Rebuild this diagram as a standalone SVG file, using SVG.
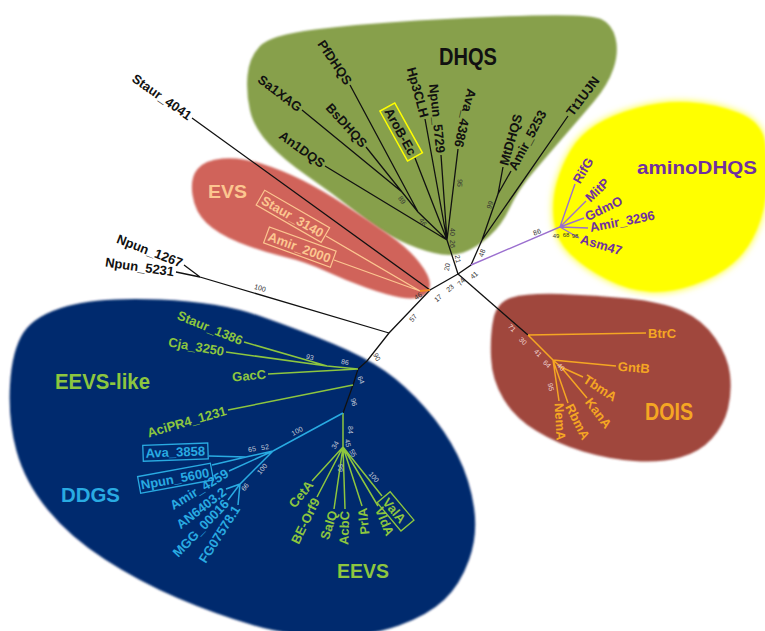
<svg xmlns="http://www.w3.org/2000/svg" width="765" height="631" viewBox="0 0 765 631">
<defs>
<style>
text{font-family:"Liberation Sans",Arial,Helvetica,sans-serif;font-weight:bold;font-size:13px}
.k{fill:#111}
.ev{fill:#fcc690}
.pu{fill:#7030a0}
.or{fill:#f5a623}
.gr{fill:#8dc63f}
.bl{fill:#29abe2}
.bs{font-size:7px;font-weight:normal;fill:#333}
.bsl{font-size:7px;font-weight:normal;fill:#c4cad8}
.bsd{font-size:7px;font-weight:normal;fill:#f0d2cc}
.sm{font-size:6px}
.lk{stroke:#111;stroke-width:1.3;fill:none}
.lp{stroke:#9b6fcf;stroke-width:1.4;fill:none}
.le{stroke:#fcc690;stroke-width:1.3;fill:none}
.lo{stroke:#f5a623;stroke-width:1.5;fill:none}
.lg{stroke:#8dc63f;stroke-width:1.5;fill:none}
.lb{stroke:#29abe2;stroke-width:1.5;fill:none}
</style>
<filter id="soft" x="-5%" y="-5%" width="110%" height="110%"><feGaussianBlur stdDeviation="1"/></filter>
<filter id="glow" x="-10%" y="-10%" width="120%" height="120%"><feGaussianBlur stdDeviation="3"/></filter>
</defs>
<rect width="765" height="631" fill="#fff"/>

<g id="clade-DHQS">
<path filter="url(#soft)" fill="#87a04b" d="M250,110.5 Q246,93 247.5,75.5 Q249,58 259.5,46.5 Q270,35 315,29.5 Q360,24 417,20.5 Q474,17 532,15.5 Q590,14 601,19 Q612,24 615.5,38 Q619,52 613.5,68.5 Q608,85 594,101.5 Q580,118 564,136.5 Q548,155 533,172.5 Q518,190 510,207.5 Q502,225 489,236.5 Q476,248 463.5,252.5 Q451,257 434,253 Q417,249 398.5,240 Q380,231 356,212 Q332,193 308,176.5 Q284,160 269,144 Q254,128 250,110.5 Z"/>
<text class="k" x="439" y="65" style="font-size:23px" textLength="58" lengthAdjust="spacingAndGlyphs">DHQS</text>
</g>
<g id="clade-EVS">
<path filter="url(#soft)" fill="#d0645a" d="M192.5,195 Q190,178 197.5,169 Q205,160 222.5,158.5 Q240,157 261,163.5 Q282,170 302,180 Q322,190 345,205 Q368,220 388,234 Q408,248 419,262 Q430,276 430,284.5 Q430,293 422,296.5 Q414,300 400.5,297.5 Q387,295 367,288 Q347,281 326.5,271.5 Q306,262 283,256.5 Q260,251 239,242.5 Q218,234 206.5,223 Q195,212 192.5,195 Z"/>
<text class="ev" x="208" y="198" style="font-size:18px" textLength="39" lengthAdjust="spacingAndGlyphs">EVS</text>
</g>
<g id="clade-aminoDHQS">
<path filter="url(#glow)" fill="#ffff30" stroke="#ffff60" stroke-width="4" d="M554,220 Q552,200 557,182.5 Q562,165 571,150 Q580,135 596,125 Q612,115 637.5,108 Q663,101 689,102.5 Q715,104 738.5,113 Q762,122 765,143.5 Q768,165 766.5,187.5 Q765,210 756.5,230 Q748,250 733,263 Q718,276 694,284.5 Q670,293 649,291.5 Q628,290 606.5,279 Q585,268 570.5,254 Q556,240 554,220 Z"/>
<path filter="url(#soft)" fill="#ffff00" d="M554,220 Q552,200 557,182.5 Q562,165 571,150 Q580,135 596,125 Q612,115 637.5,108 Q663,101 689,102.5 Q715,104 738.5,113 Q762,122 765,143.5 Q768,165 766.5,187.5 Q765,210 756.5,230 Q748,250 733,263 Q718,276 694,284.5 Q670,293 649,291.5 Q628,290 606.5,279 Q585,268 570.5,254 Q556,240 554,220 Z"/>
<text class="pu" x="637" y="174" style="font-size:19px" textLength="120" lengthAdjust="spacingAndGlyphs">aminoDHQS</text>
</g>
<g id="clade-DOIS">
<path filter="url(#soft)" fill="#a0463e" d="M491,357.5 Q490,335 493.5,318.5 Q497,302 512,297.5 Q527,293 561,294 Q595,295 628.5,298.5 Q662,302 682.5,311 Q703,320 715.5,338.5 Q728,357 730,374.5 Q732,392 728,408.5 Q724,425 712,438.5 Q700,452 680,457.5 Q660,463 634,461 Q608,459 583,451.5 Q558,444 536.5,431 Q515,418 503.5,399 Q492,380 491,357.5 Z"/>
<text class="or" x="645" y="420" style="font-size:23px" textLength="48" lengthAdjust="spacingAndGlyphs">DOIS</text>
</g>
<g id="clade-navy">
<path filter="url(#soft)" fill="#03296e" d="M10,385 Q12,350 23.5,332.5 Q35,315 67.5,306 Q100,297 160,299.5 Q220,302 260,316 Q300,330 332.5,343.5 Q365,357 385,371 Q405,385 425,407.5 Q445,430 457.5,455 Q470,480 474,507.5 Q478,535 469,560 Q460,585 444,600 Q428,615 399,625.5 Q370,636 330,636 Q290,636 252.5,625 Q215,614 177.5,598 Q140,582 105,559.5 Q70,537 47.5,509.5 Q25,482 16.5,451 Q8,420 10,385 Z"/>
<text class="gr" x="55" y="389" style="font-size:22px" textLength="95" lengthAdjust="spacingAndGlyphs">EEVS-like</text>
<text class="bl" x="61" y="502" style="font-size:21px" textLength="59" lengthAdjust="spacingAndGlyphs">DDGS</text>
<text class="gr" x="337" y="578" style="font-size:21px" textLength="52" lengthAdjust="spacingAndGlyphs">EEVS</text>
</g>

<g id="connectors">
<path class="lk" d="M458,274 L447,240 M447,240 L418,212 L402,192 L302,110 M402,192 L366,147 M418,212 L350,85 M447,240 L325,166 M447,240 L415,158 M447,240 L425,119 M447,240 L441,155 M447,240 L458,149"/>
<path class="lk" d="M458,274 L471,265 L482,240 L568,116 M482,240 L498,194 L503,167 M498,194 L511,171"/>
<path class="lk" d="M458,274 L430,290 L389,333 L367,361 L358,369 L353,385 L343,413 M430,290 L192,118 M389,333 L200,277 L184,265 M200,277 L176,272"/>
<path class="lk" d="M458,274 L528,335"/>
<path class="lp" d="M471,265 L560,227 L575,184 M560,227 L586,201 M560,227 L584,218 M560,227 L588,228 M560,227 L579,238"/>
<path class="le" d="M420,291 L326,236 M420,291 L334,260"/>
<path d="M420,291 L430,290" stroke="#f08a20" stroke-width="2"/>
<path class="lo" d="M528,335 L646,333 M528,335 L553,360 L616,366 M553,360 L561,367 L583,377 M561,367 L587,398 M553,360 L568,403 M553,360 L559,401"/>
<path class="lg" d="M244,342 L327,366 L358,369 M226,352 L327,366 M268,374 L358,369 M228,410 L353,385"/>
<path class="lg" d="M343,413 L343,447 L312,481 M343,447 L317,497 M343,447 L334,509 M343,447 L345,509 M343,447 L362,506 M343,447 L378,506 M343,447 L382,496"/>
<path class="lb" d="M343,413 L273,451 L246,457 L209,456 M246,457 L212,465 M273,451 L229,471 M273,451 L240,484 L226,489 M240,484 L228,500 M240,484 L238,505"/>
</g>

<g id="leaf-PfDHQS"><text class="k" transform="translate(350,85) rotate(56)" text-anchor="end" dx="-2" dy="4.5">PfDHQS</text></g>
<g id="leaf-Sa1XAG"><text class="k" transform="translate(302,110) rotate(37)" text-anchor="end" dx="-2" dy="4.5">Sa1XAG</text></g>
<g id="leaf-BsDHQS"><text class="k" transform="translate(366,147) rotate(48)" text-anchor="end" dx="-2" dy="4.5">BsDHQS</text></g>
<g id="leaf-An1DQS"><text class="k" transform="translate(325,166) rotate(36)" text-anchor="end" dx="-2" dy="4.5">An1DQS</text></g>
<g id="leaf-AroB-Ec"><g transform="translate(415,158) rotate(61)"><rect x="-58" y="-9" width="57" height="17" fill="none" stroke="#ffff00" stroke-width="1.5"/><text class="k" text-anchor="end" dx="-4" dy="4.5">AroB-Ec</text></g></g>
<g id="leaf-Hp3CLH"><text class="k" transform="translate(425,119) rotate(75)" text-anchor="end" dx="-2" dy="4.5">Hp3CLH</text></g>
<g id="leaf-Npun_5729"><text class="k" transform="translate(441,155) rotate(84)" text-anchor="end" dx="-2" dy="4.5">Npun_5729</text></g>
<g id="leaf-Ava_4386"><text class="k" transform="translate(458,149) rotate(103)" text-anchor="end" dx="-2" dy="4.5">Ava_4386</text></g>
<g id="leaf-MtDHQS"><text class="k" transform="translate(503,167) rotate(-74)" dx="2" dy="4.5">MtDHQS</text></g>
<g id="leaf-Amir_5253"><text class="k" transform="translate(511,171) rotate(-62)" dx="2" dy="4.5">Amir_5253</text></g>
<g id="leaf-Tt1UJN"><text class="k" transform="translate(568,116) rotate(-53)" dx="2" dy="4.5">Tt1UJN</text></g>
<g id="leaf-Staur_4041"><text class="k" transform="translate(192,118) rotate(35)" text-anchor="end" dx="-2" dy="4.5">Staur_4041</text></g>
<g id="leaf-Npun_1267"><text class="k" transform="translate(184,264) rotate(21)" text-anchor="end" dx="-2" dy="4.5">Npun_1267</text></g>
<g id="leaf-Npun_5231"><text class="k" transform="translate(176,272) rotate(8)" text-anchor="end" dx="-2" dy="4.5">Npun_5231</text></g>

<g id="leaf-Staur_3140"><g transform="translate(326,236) rotate(30)"><rect x="-76" y="-9" width="75" height="17" fill="none" stroke="#fcc690" stroke-width="1.2"/><text class="ev" text-anchor="end" dx="-4" dy="4.5">Staur_3140</text></g></g>
<g id="leaf-Amir_2000"><g transform="translate(334,260) rotate(20)"><rect x="-72" y="-9" width="71" height="17" fill="none" stroke="#fcc690" stroke-width="1.2"/><text class="ev" text-anchor="end" dx="-4" dy="4.5">Amir_2000</text></g></g>

<g id="leaf-RifG"><text class="pu" transform="translate(575,184) rotate(-59)" dx="2" dy="4.5">RifG</text></g>
<g id="leaf-MitP"><text class="pu" transform="translate(586,201) rotate(-44)" dx="2" dy="4.5">MitP</text></g>
<g id="leaf-GdmO"><text class="pu" transform="translate(584,218) rotate(-26)" dx="2" dy="4.5">GdmO</text></g>
<g id="leaf-Amir_3296"><text class="pu" transform="translate(588,228) rotate(-11)" dx="2" dy="4.5">Amir_3296</text></g>
<g id="leaf-Asm47"><text class="pu" transform="translate(579,238) rotate(17)" dx="2" dy="4.5">Asm47</text></g>

<g id="leaf-BtrC"><text class="or" transform="translate(646,333)" dx="2" dy="4.5">BtrC</text></g>
<g id="leaf-GntB"><text class="or" transform="translate(616,366) rotate(5)" dx="2" dy="4.5">GntB</text></g>
<g id="leaf-TbmA"><text class="or" transform="translate(583,377) rotate(33)" dx="2" dy="4.5">TbmA</text></g>
<g id="leaf-KanA"><text class="or" transform="translate(587,398) rotate(53)" dx="2" dy="4.5">KanA</text></g>
<g id="leaf-RbmA"><text class="or" transform="translate(568,403) rotate(63)" dx="2" dy="4.5">RbmA</text></g>
<g id="leaf-NemA"><text class="or" transform="translate(559,401) rotate(87)" dx="2" dy="4.5">NemA</text></g>

<g id="leaf-Staur_1386"><text class="gr" transform="translate(244,342) rotate(22.5)" text-anchor="end" dx="-2" dy="4.5">Staur_1386</text></g>
<g id="leaf-Cja_3250"><text class="gr" transform="translate(226,352) rotate(10)" text-anchor="end" dx="-2" dy="4.5">Cja_3250</text></g>
<g id="leaf-GacC"><text class="gr" transform="translate(268,374) rotate(-5)" text-anchor="end" dx="-2" dy="4.5">GacC</text></g>
<g id="leaf-AciPR4_1231"><text class="gr" transform="translate(228,410) rotate(-16)" text-anchor="end" dx="-2" dy="4.5">AciPR4_1231</text></g>

<g id="leaf-Ava_3858"><g transform="translate(208,451) rotate(-2)"><rect x="-65" y="-8" width="65" height="16" fill="none" stroke="#29abe2" stroke-width="1.3"/><text class="bl" text-anchor="end" dx="-3" dy="4.5">Ava_3858</text></g></g>
<g id="leaf-Npun_5600"><g transform="translate(212,472) rotate(-10.5)"><rect x="-74" y="-9" width="74" height="17" fill="none" stroke="#29abe2" stroke-width="1.3"/><text class="bl" text-anchor="end" dx="-3" dy="4.5">Npun_5600</text></g></g>
<g id="leaf-Amir_4259"><text class="bl" transform="translate(229,471) rotate(-31.5)" text-anchor="end" dx="-2" dy="4.5">Amir_4259</text></g>
<g id="leaf-AN6403.2"><text class="bl" transform="translate(226,489) rotate(-37.6)" text-anchor="end" dx="-2" dy="4.5">AN6403.2</text></g>
<g id="leaf-MGG_00016"><text class="bl" transform="translate(228,500) rotate(-46)" text-anchor="end" dx="-2" dy="4.5">MGG_00016</text></g>
<g id="leaf-FG07578.1"><text class="bl" transform="translate(238,505) rotate(-57.5)" text-anchor="end" dx="-2" dy="4.5">FG07578.1</text></g>

<g id="leaf-CetA"><text class="gr" transform="translate(312,481) rotate(-50)" text-anchor="end" dx="-2" dy="4.5">CetA</text></g>
<g id="leaf-BE-Orf9"><text class="gr" transform="translate(317,497) rotate(-64)" text-anchor="end" dx="-2" dy="4.5">BE-Orf9</text></g>
<g id="leaf-SalQ"><text class="gr" transform="translate(334,509) rotate(-72)" text-anchor="end" dx="-2" dy="4.5">SalQ</text></g>
<g id="leaf-AcbC"><text class="gr" transform="translate(345,509) rotate(-88)" text-anchor="end" dx="-2" dy="4.5">AcbC</text></g>
<g id="leaf-PrlA"><text class="gr" transform="translate(362,506) rotate(-96)" text-anchor="end" dx="-2" dy="4.5">PrlA</text></g>
<g id="leaf-VldA"><text class="gr" transform="translate(378,506) rotate(67)" dx="2" dy="4.5">VldA</text></g>
<g id="leaf-ValA"><g transform="translate(382,496) rotate(50)"><rect x="2" y="-9" width="37" height="17" fill="none" stroke="#8dc63f" stroke-width="1.3"/><text class="gr" dx="5" dy="4.5">ValA</text></g></g>

<g id="bootstrap" text-anchor="middle">
<text class="bs" transform="translate(402,200) rotate(55)" dy="2.5">89</text>
<text class="bs" transform="translate(423,222) rotate(55)" dy="2.5">46</text>
<text class="bs" transform="translate(460,183) rotate(95)" dy="2.5">95</text>
<text class="bs" transform="translate(452,232) rotate(90)" dy="2.5">40</text>
<text class="bs" transform="translate(452,244) rotate(90)" dy="2.5">26</text>
<text class="bs" transform="translate(490,205) rotate(-70)" dy="2.5">99</text>
<text class="bs" transform="translate(482,253) rotate(-70)" dy="2.5">48</text>
<text class="bs" transform="translate(447,267) rotate(-80)" dy="2.5">20</text>
<text class="bs" transform="translate(458,259) rotate(80)" dy="2.5">21</text>
<text class="bs" transform="translate(537,232) rotate(-22)" dy="2.5">86</text>
<text class="bs sm" x="556" y="238">49</text>
<text class="bs sm" x="566" y="237">68</text>
<text class="bs sm" x="575" y="238">98</text>
<text class="bs" transform="translate(418,296) rotate(-35)" dy="2.5">46</text>
<text class="bs" transform="translate(438,298) rotate(-40)" dy="2.5">17</text>
<text class="bs" transform="translate(450,288) rotate(-40)" dy="2.5">23</text>
<text class="bs" transform="translate(461,282) rotate(-50)" dy="2.5">74</text>
<text class="bs" transform="translate(474,275) rotate(-40)" dy="2.5">41</text>
<text class="bs" transform="translate(413,318) rotate(-50)" dy="2.5">57</text>
<text class="bs" transform="translate(260,288) rotate(16)" dy="2.5">100</text>
<text class="bs" transform="translate(377,357) rotate(65)" dy="2.5">90</text>
<text class="bsd" transform="translate(512,328) rotate(45)" dy="2.5">71</text>
<text class="bsd" transform="translate(523,341) rotate(45)" dy="2.5">30</text>
<text class="bsd" transform="translate(538,353) rotate(45)" dy="2.5">41</text>
<text class="bsd" transform="translate(547,364) rotate(45)" dy="2.5">64</text>
<text class="bsd" transform="translate(561,367) rotate(45)" dy="2.5">40</text>
<text class="bsd" transform="translate(551,387) rotate(80)" dy="2.5">95</text>
<text class="bsl" transform="translate(310,357) rotate(15)" dy="2.5">93</text>
<text class="bsl" transform="translate(345,362) rotate(10)" dy="2.5">86</text>
<text class="bsl" transform="translate(361,380) rotate(70)" dy="2.5">64</text>
<text class="bsl" transform="translate(354,402) rotate(75)" dy="2.5">96</text>
<text class="bsl" transform="translate(297,431) rotate(-28)" dy="2.5">100</text>
<text class="bsl" transform="translate(252,449) rotate(-10)" dy="2.5">65</text>
<text class="bsl" transform="translate(265,447) rotate(-10)" dy="2.5">52</text>
<text class="bsl" transform="translate(262,469) rotate(-50)" dy="2.5">100</text>
<text class="bsl" transform="translate(245,487) rotate(-55)" dy="2.5">66</text>
<text class="bsl" transform="translate(350,430) rotate(90)" dy="2.5">84</text>
<text class="bsl" transform="translate(335,445) rotate(-60)" dy="2.5">34</text>
<text class="bsl" transform="translate(348,443) rotate(80)" dy="2.5">45</text>
<text class="bsl" transform="translate(353,453) rotate(60)" dy="2.5">55</text>
<text class="bsl" transform="translate(340,468) rotate(90)" dy="2.5">99</text>
<text class="bsl" transform="translate(374,477) rotate(50)" dy="2.5">100</text>
</g>
</svg>
